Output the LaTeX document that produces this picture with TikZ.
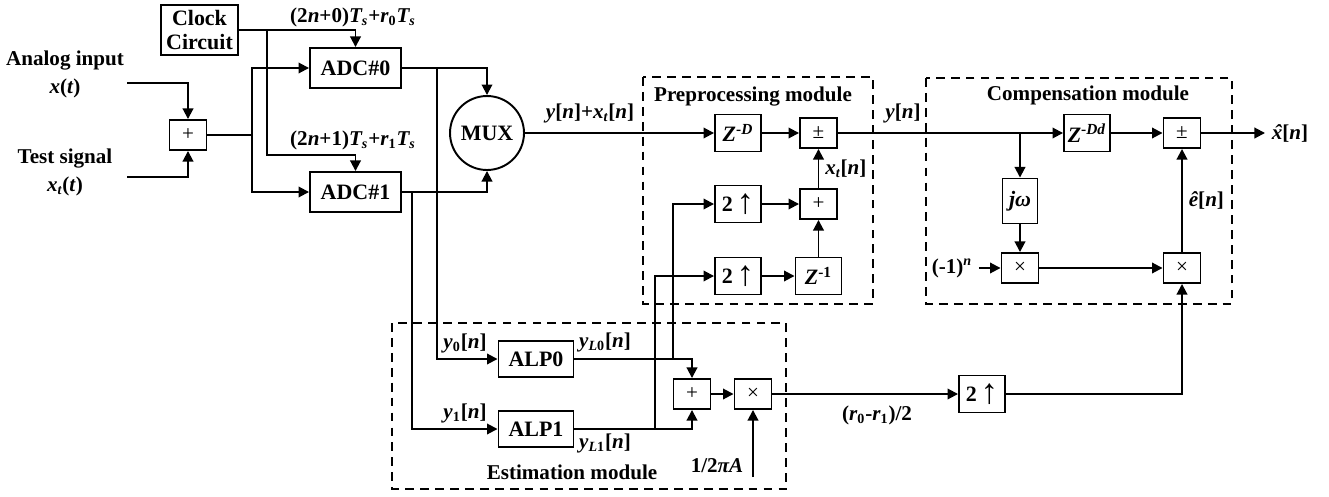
\documentclass[tikz,border=0pt]{standalone}
\usepackage{fontspec}
\setmainfont{Liberation Serif}
\usetikzlibrary{arrows.meta}

\begin{document}
\begin{tikzpicture}[x=0.02cm, y=-0.02cm, >={Triangle[length=6pt,width=6pt]}, line width=1.1pt,
    font=\fontsize{12}{13}\selectfont\bfseries,
    block/.style={draw, rectangle, inner sep=1pt, font=\fontsize{12.5}{14}\selectfont\bfseries},
    adcbox/.style={block, minimum width=1.82cm, minimum height=0.8cm},
    zbox/.style={block, minimum width=0.92cm, minimum height=0.74cm},
    alpbox/.style={block, minimum width=1.5cm, minimum height=0.72cm},
    opbox/.style={draw, rectangle, inner sep=0pt, minimum width=0.74cm, minimum height=0.6cm, font=\fontsize{12}{12}\selectfont\mdseries},
    modframe/.style={dashed, dash pattern=on 5pt off 3.5pt, line width=1pt}]

    \useasboundingbox (0,0) rectangle (1329,497);

    % module frames
    \draw[modframe] (643,77) rectangle (873,304);
    \draw[modframe] (926,78) rectangle (1232,304);
    \draw[modframe] (392,323) rectangle (786,489);
    \node (pretitle) at (753,97) {Preprocessing module};
    \node (comptitle) at (1088,95) {Compensation module};
    \node (esttitle) at (572,472) {Estimation module};

    % inputs and clock
    \node[align=center, font=\fontsize{12}{16}\selectfont\bfseries] (ain) at (65,74) {Analog input\\\textit{x}(\textit{t})};
    \node[align=center, font=\fontsize{12}{16}\selectfont\bfseries] (tin) at (65,172) {Test signal\\\textit{x\textsubscript{t}}(\textit{t})};
    \coordinate (xin) at (127,83);
    \coordinate (tsig) at (127,177);
    \node[opbox] (add) at (188,135) {+};
    \node[block, align=center, minimum width=1.54cm, minimum height=1cm] (clock) at (199.5,30) {Clock\\Circuit};
    \node[adcbox] (adc0) at (355.5,68) {ADC\#0};
    \node[adcbox] (adc1) at (355.5,192) {ADC\#1};
    \node[draw, circle, minimum size=1.48cm, inner sep=0pt, font=\fontsize{12.5}{14}\selectfont\bfseries] (mux) at (487,133) {MUX};
    \node (ck0lbl) at (353,17) {(2\textit{n}+0)\textit{T\textsubscript{s}}+\textit{r}\textsubscript{0}\textit{T\textsubscript{s}}};
    \node (ck1lbl) at (353,140) {(2\textit{n}+1)\textit{T\textsubscript{s}}+\textit{r}\textsubscript{1}\textit{T\textsubscript{s}}};

    \draw[->] (xin) -| (add.north);
    \draw[->] (tsig) -| (add.south);
    \coordinate (split) at (252,135);
    \draw (add.east) -- (split);
    \draw[->] (split) |- (adc0.west);
    \draw[->] (split) |- (adc1.west);

    \coordinate (ck0) at (267,30);
    \coordinate (ckb) at (355.5,155);
    \draw[->] (clock.east) -| (adc0.north);
    \draw[->] (ck0) |- (ckb) -- (adc1.north);

    \draw[->] (adc0.east) -| (mux.north);
    \draw[->] (adc1.east) -| (mux.south);

    % preprocessing module
    \node[zbox] (zd) at (738,133) {\textit{Z}\textsuperscript{-\textit{D}}};
    \node[opbox] (pm1) at (818.5,133) {±};
    \node[zbox] (up1) at (738,204) {2\,\raisebox{-1pt}{\fontsize{20}{20}\selectfont\mdseries↑}};
    \node[opbox] (add2) at (818.5,204) {+};
    \node[zbox] (up2) at (738,276) {2\,\raisebox{-1pt}{\fontsize{20}{20}\selectfont\mdseries↑}};
    \node[zbox] (zm1) at (818.5,276) {\textit{Z}\textsuperscript{-1}};
    \node (mixlbl) at (590,113) {\textit{y}[\textit{n}]+\textit{x\textsubscript{t}}[\textit{n}]};

    \draw[->] (mux.east) -- (zd.west);
    \draw[->] (zd.east) -- (pm1.west);
    \draw[->] (up1.east) -- (add2.west);
    \draw[->] (up2.east) -- (zm1.west);
    \draw[->] (zm1.north) -- (add2.south);
    \draw[->] (add2.north) -- node[right] (xtlbl) {\textit{x\textsubscript{t}}[\textit{n}]} (pm1.south);

    % estimation module
    \node[alpbox] (alp0) at (536,359) {ALP0};
    \node[alpbox] (alp1) at (536,429) {ALP1};
    \node[opbox] (add3) at (692,394) {+};
    \node[opbox] (mul1) at (753,394) {×};
    \node (y0lbl) at (465,343) {\textit{y}\textsubscript{0}[\textit{n}]};
    \node (y1lbl) at (465,413) {\textit{y}\textsubscript{1}[\textit{n}]};
    \node (yl0lbl) at (605,342) {\textit{y}\textsubscript{\textit{L}0}[\textit{n}]};
    \node (yl1lbl) at (605,443) {\textit{y}\textsubscript{\textit{L}1}[\textit{n}]};
    \node (gainlbl) at (717,466) {1/2\textit{πA}};

    \coordinate (b0) at (437,68);
    \coordinate (b1) at (412,192);
    \draw[->] (b0) |- (alp0.west);
    \draw[->] (b1) |- (alp1.west);
    \draw[->] (alp0.east) -| (add3.north);
    \draw[->] (alp1.east) -| (add3.south);
    \coordinate (c0) at (673,359);
    \coordinate (c1) at (655,429);
    \draw[->] (c0) |- (up1.west);
    \draw[->] (c1) |- (up2.west);
    \draw[->] (add3.east) -- (mul1.west);
    \coordinate (gain) at (753,477);
    \draw[->] (gain) -- (mul1.south);

    % compensation module
    \node[zbox] (zdd) at (1087,133) {\textit{Z}\textsuperscript{-\textit{Dd}}};
    \node[opbox] (pm2) at (1182,133) {±};
    \node[block, minimum width=0.7cm, minimum height=0.9cm] (jw) at (1020,201) {\textit{jω}};
    \node[opbox] (mul2) at (1020,268) {×};
    \node[opbox] (mul3) at (1182,268) {×};
    \node (sgn) at (952,268) {(-1)\textsuperscript{\textit{n}}};
    \node (xhat) at (1290,133) {\textit{x\llap{ˆ\kern0.6pt}}[\textit{n}]};
    \node (ylbl) at (903,113) {\textit{y}[\textit{n}]};

    \draw[->] (pm1.east) -- (zdd.west);
    \coordinate (b2) at (1020,133);
    \draw[->] (b2) -- (jw.north);
    \draw[->] (jw.south) -- (mul2.north);
    \draw[->] (sgn) -- (mul2.west);
    \draw[->] (mul2.east) -- (mul3.west);
    \draw[->] (zdd.east) -- (pm2.west);
    \draw[->] (mul3.north) -- node[right] (ehatlbl) {\textit{ê}[\textit{n}]} (pm2.south);
    \draw[->] (pm2.east) -- (xhat.west);

    % error path
    \node[zbox] (up3) at (982,394) {2\,\raisebox{-1pt}{\fontsize{20}{20}\selectfont\mdseries↑}};
    \node (rlbl) at (877,415) {(\textit{r}\textsubscript{0}-\textit{r}\textsubscript{1})/2};
    \draw[->] (mul1.east) -- (up3.west);
    \draw[->] (up3.east) -| (mul3.south);
\end{tikzpicture}
\end{document}
